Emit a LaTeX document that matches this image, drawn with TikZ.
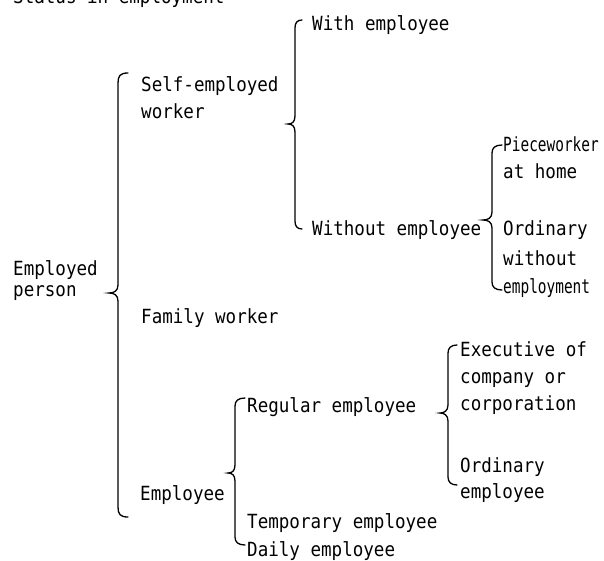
\documentclass[tikz,border=0pt]{standalone}
\usepackage{fontspec}
\setmonofont[FakeStretch=0.9]{DejaVu Sans Mono}
\newfontfamily\narrowmono[FakeStretch=0.74]{DejaVu Sans Mono}
\tikzset{
	lbl/.style={anchor=base west, inner sep=0pt, font=\ttfamily\fontsize{19.5}{24}\selectfont},
	nlbl/.style={lbl, font=\narrowmono\fontsize{19.5}{24}\selectfont},
	curly/.style={line width=1.3pt, line cap=round}
}

\begin{document}
\begin{tikzpicture}[x=1pt,y=-1pt]
		\useasboundingbox (0,0) rectangle (604,560);
		%Title (cut at the top)
		\node[lbl] (title) at (13,3) {Status in employment};
		%Level 0
		\node[lbl] (emp1) at (13,275) {Employed};
		\node[lbl] (emp2) at (13,296) {person};
		\draw[curly] (128,73) .. controls (120,73) and (118,76) .. (118,83) -- (118,285) .. controls (118,291) and (114,293) .. (109,293) .. controls (114,293) and (118,295) .. (118,301) -- (118,507) .. controls (118,514) and (120,517) .. (128,517);
		%Level 1
		\node[lbl] (self1) at (141,91) {Self-employed};
		\node[lbl] (self2) at (141,118) {worker};
		\node[lbl] (family) at (141,323) {Family worker};
		\node[lbl] (employee) at (140,500) {Employee};
		\draw[curly] (302,20) .. controls (297,20) and (295,23) .. (295,28) -- (295,116) .. controls (295,122) and (292,124) .. (288,124) .. controls (292,124) and (295,126) .. (295,132) -- (295,221) .. controls (295,226) and (297,229) .. (302,229);
		\draw[curly] (245,398) .. controls (238,398) and (235,401) .. (235,406) -- (235,465) .. controls (235,471) and (232,473) .. (228,473) .. controls (232,473) and (235,475) .. (235,481) -- (235,537) .. controls (235,542) and (238,545) .. (245,545);
		%Level 2
		\node[lbl] (with) at (312,30) {With employee};
		\node[lbl] (without) at (312,235) {Without employee};
		\node[lbl] (regular) at (247,412) {Regular employee};
		\node[lbl] (temp) at (247,528) {Temporary employee};
		\node[lbl] (daily) at (247,556) {Daily employee};
		\draw[curly] (502,145) .. controls (495,145) and (492,148) .. (492,153) -- (492,212) .. controls (492,218) and (488,220) .. (483,220) .. controls (488,220) and (492,222) .. (492,228) -- (492,282) .. controls (492,287) and (495,290) .. (502,290);
		\draw[curly] (457,345) .. controls (451,345) and (448,348) .. (448,353) -- (448,405) .. controls (448,411) and (444,413) .. (440,413) .. controls (444,413) and (448,415) .. (448,421) -- (448,477) .. controls (448,482) and (451,485) .. (457,485);
		%Level 3
		\node[nlbl] (piece1) at (503,151) {Pieceworker};
		\node[lbl] (piece2) at (503,178) {at home};
		\node[lbl] (ord1) at (503,235) {Ordinary};
		\node[lbl] (ord2) at (503,265) {without};
		\node[nlbl] (ord3) at (503,293) {employment};
		\node[lbl] (exec1) at (460,356) {Executive of};
		\node[lbl] (exec2) at (460,383) {company or};
		\node[lbl] (exec3) at (460,410) {corporation};
		\node[lbl] (oemp1) at (460,472) {Ordinary};
		\node[lbl] (oemp2) at (460,498) {employee};
\end{tikzpicture}
\end{document}
